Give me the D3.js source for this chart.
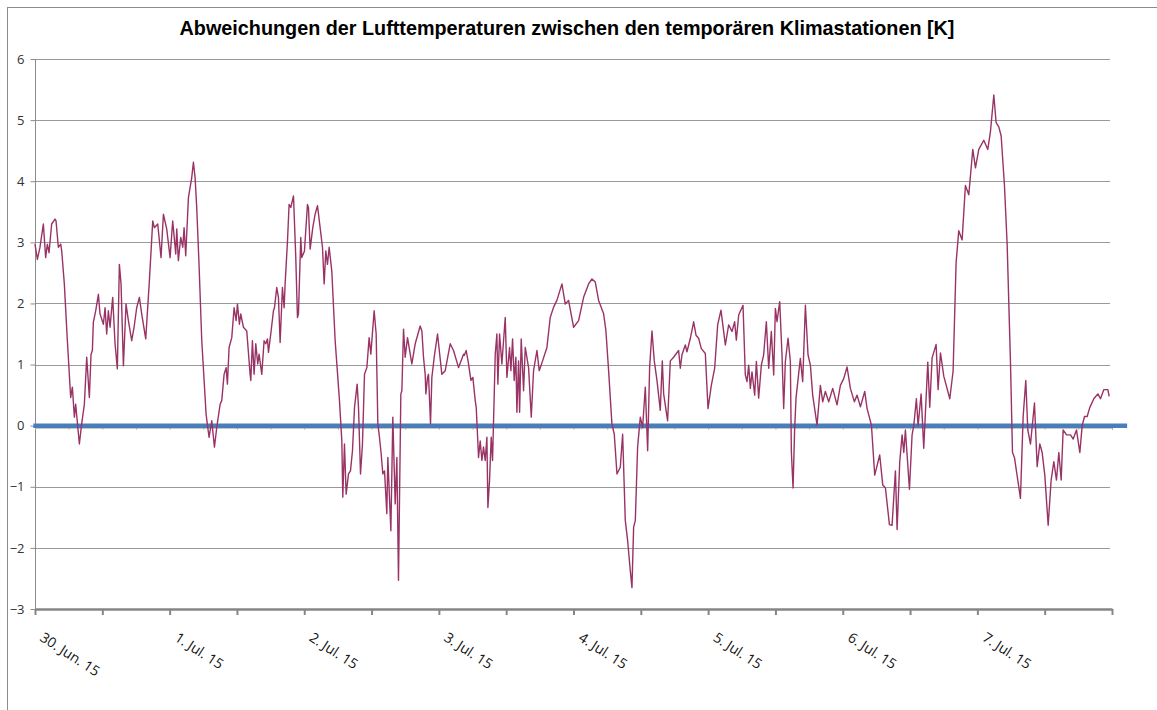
<!DOCTYPE html>
<html><head><meta charset="utf-8">
<script src="https://cdn.jsdelivr.net/npm/d3@7"></script>
<style>body{margin:0;background:#fff}svg{display:block}</style>
</head><body><svg id="c" width="1157" height="710"></svg>
<script>
const chartTitle = "Abweichungen der Lufttemperaturen zwischen den temporären Klimastationen [K]";
const startUTC = Date.UTC(2015, 5, 30);
const spanHours = 192;
// hours since 30 Jun 2015 00:00
const hours = [
0,0.42,0.89,1.49,1.90,2.20,2.50,2.97,3.57,3.75,4.16,4.58,4.76,5.23,5.77,6.36,6.66,7.02,7.25,7.91,8.32,8.80,9.22,9.69,9.99,10.23,10.40,10.82,11.30,11.59,12.19,12.49,12.78,13.08,13.38,13.85,14.27,14.68,15.04,15.34,15.76,16.23,16.65,17.24,17.66,18.13,18.61,19.02,19.74,20.39,20.99,21.28,21.88,22.47,22.89,23.48,24.08,24.55,25.09,25.27,25.56,25.98,26.34,26.58,26.87,27.35,27.94,28.24,28.54,28.83,29.25,29.73,30.50,30.80,31.03,31.51,31.99,32.40,33.00,33.29,33.71,34.07,34.30,34.60,35.08,35.49,35.85,36.09,36.44,36.68,37.16,37.75,38.35,
38.47,38.76,39.06,39.36,39.71,39.95,40.43,40.84,41.14,41.44,41.62,42.03,42.51,42.69,43.10,43.40,43.70,44.11,44.41,44.59,45.01,45.30,45.60,46.08,46.49,46.79,46.97,47.38,47.56,48.04,48.57,48.75,49.05,49.52,49.94,50.36,50.83,51.25,51.55,51.84,52.14,52.44,52.91,53.51,54.28,54.70,54.87,55.17,55.47,55.89,56.24,56.60,56.96,57.43,57.67,58.03,58.38,58.74,59.16,59.57,59.87,60.46,60.82,61.12,61.41,61.71,62.01,62.31,62.72,62.90,63.44,63.79,64.21,64.51,64.80,65.22,65.40,65.70,65.99,66.41,67.18,67.78,68.67,68.97,69.26,69.56,69.68,69.98,70.15,70.51,70.75,71.17,71.76,72.53,73.13,74.02,74.61,75.51,76.40,
76.52,76.87,77.29,77.71,78.06,78.48,78.66,79.07,79.37,79.67,79.96,80.26,80.56,80.74,81.03,81.33,81.57,82.05,82.34,82.52,82.82,83.23,83.83,84.13,84.60,84.84,85.14,85.43,85.73,85.91,86.21,86.39,86.68,87.10,87.40,87.99,88.47,88.88,89.48,89.89,90.49,91.26,91.85,92.45,93.04,93.94,94.53,95.12,96.02,96.91,97.80,98.69,99.29,99.88,100.48,101.37,101.78,102.26,102.85,103.27,103.75,104.34,104.76,105.23,105.65,106.12,106.42,106.72,107.02,107.43,107.91,108.32,108.80,109.22,109.57,109.99,110.40,110.88,111.47,111.83,112.07,112.78,113.26,113.85,114.74,
115.04,115.34,115.93,116.23,116.83,117.42,117.84,118.31,118.79,119.50,119.98,120.57,121.17,121.70,122.29,122.77,123.07,123.66,124.26,124.73,125.03,125.45,126.22,126.63,126.93,127.23,127.53,127.82,128.30,128.60,129.01,129.49,129.90,130.38,130.80,131.27,131.69,131.99,132.28,132.76,133.17,133.47,133.77,134.25,134.66,134.84,135.14,135.43,135.67,136.44,136.86,137.34,137.81,138.23,138.64,139.42,140.01,140.43,140.90,141.50,142.21,142.98,143.58,144.17,144.77,145.36,146.08,146.55,147.15,147.92,148.34,149.11,149.70,150.59,151.13,151.61,152.32,
152.79,153.39,153.69,154.16,154.58,154.88,155.17,155.89,156.36,156.66,157.13,157.43,157.97,158.44,159.16,159.51,159.93,160.64,161.00,161.42,162.01,163.08,163.67,164.21,164.68,165.28,165.87,166.47,167.18,167.66,168.25,169.14,169.86,170.33,170.93,171.34,171.82,172.24,172.83,173.31,173.90,174.26,174.61,175.68,176.16,176.63,176.99,177.47,178.18,178.66,179.13,179.55,180.02,180.62,181.15,181.63,182.10,182.52,182.94,183.29,183.89,184.60,185.08,185.67,186.27,186.68,187.10,187.57,188.05,188.76,189.48,189.95,190.55,191.26,191.50
];
// deviation in K
const deviation = [
2.97,2.72,2.92,3.30,2.75,2.97,2.83,3.30,3.38,3.35,2.92,2.97,2.86,2.32,1.39,0.46,0.63,0.14,0.35,-0.30,0.03,0.35,1.12,0.46,1.17,1.23,1.69,1.88,2.15,1.83,1.66,1.93,1.50,1.88,1.61,2.10,1.34,0.93,2.64,2.32,0.98,1.99,1.72,1.39,1.61,1.93,2.10,1.83,1.42,2.37,3.35,3.24,3.30,2.75,3.46,3.22,2.75,3.35,2.81,3.22,2.70,3.08,2.92,3.24,2.78,3.73,4.06,4.31,4.06,3.57,2.62,1.39,0.19,-0.03,-0.19,0.08,-0.35,-0.03,0.35,0.41,0.84,0.95,0.68,1.28,1.44,1.93,1.72,1.99,1.66,1.83,1.61,1.55,0.84,
0.74,1.39,0.84,1.34,1.01,1.17,0.84,1.39,1.34,1.42,1.20,1.50,1.88,1.93,2.26,2.10,1.36,2.26,1.93,2.32,3.02,3.62,3.57,3.76,2.75,1.77,1.83,3.08,2.75,2.86,3.62,3.57,2.89,3.24,3.46,3.60,3.24,2.92,2.32,2.86,2.64,2.92,2.53,1.39,0.41,-0.25,-1.17,-0.30,-1.12,-0.79,-0.74,-0.41,0.30,0.68,0.30,-0.79,-0.30,0.84,0.95,1.44,1.17,1.88,1.50,0.03,-0.19,-0.46,-0.79,-0.74,-1.44,-0.52,-1.72,0.14,-1.28,-0.52,-2.53,0.52,0.57,1.58,1.12,1.44,1.01,1.34,1.63,1.55,1.12,0.84,0.52,0.79,0.84,0.03,0.79,1.12,1.50,0.84,0.90,1.34,1.23,0.95,1.17,
1.15,1.23,1.01,0.74,0.79,0.41,0.30,-0.52,-0.25,-0.57,-0.35,-0.57,-0.19,-1.34,-0.90,-0.19,-0.57,1.17,1.50,0.68,1.50,1.01,1.77,0.79,1.28,0.90,1.42,0.74,1.12,0.22,1.06,0.22,1.42,0.57,1.28,0.95,0.14,0.90,1.23,0.90,1.06,1.28,1.77,1.94,2.05,2.32,1.99,2.05,1.61,1.72,2.10,2.32,2.40,2.35,2.05,1.83,1.55,0.90,0.03,-0.14,-0.79,-0.68,-0.14,-1.55,-1.88,-2.37,-2.65,-1.66,-1.55,-0.35,0.14,-0.03,0.63,-0.41,0.95,1.55,1.06,0.74,0.25,1.06,0.52,0.08,1.06,1.12,1.23,
0.94,1.16,1.32,1.21,1.43,1.70,1.48,1.43,1.26,1.18,0.28,0.66,0.94,1.65,1.89,1.54,1.32,1.65,1.54,1.70,1.40,1.81,1.97,0.83,0.72,0.99,0.61,0.88,0.50,1.05,0.45,0.99,1.16,1.70,0.94,1.54,0.83,1.92,1.70,2.03,1.16,0.28,1.05,1.43,1.05,-0.43,-1.02,-0.04,0.45,1.10,0.72,1.97,1.16,0.99,0.50,0.01,0.66,0.39,0.56,0.39,0.61,0.34,0.66,0.77,0.96,0.61,0.39,0.50,0.31,0.56,0.28,0.01,-0.81,-0.48,-0.97,-1.02,-1.62,
-1.63,-0.74,-1.70,-0.59,-0.15,-0.44,-0.07,-1.04,-0.15,0.00,0.44,0.00,0.52,-0.37,1.04,0.30,1.11,1.33,0.59,1.19,0.81,0.44,0.89,2.67,3.19,3.04,3.93,3.78,4.52,4.22,4.52,4.67,4.52,4.81,5.41,4.96,4.89,4.74,3.93,2.96,1.04,-0.44,-0.52,-1.19,0.15,0.74,-0.07,-0.30,0.37,-0.67,-0.30,-0.44,-0.81,-1.63,-0.89,-0.59,-0.89,-0.44,-0.89,-0.07,-0.15,-0.15,-0.22,-0.07,-0.44,0.00,0.15,0.15,0.30,0.44,0.52,0.44,0.59,0.59,0.48
];
// second series: constant zero reference
const zeroHours = [-0.3, 194.7];
const zeroValues = [0, 0];
const yTickValues = [-3,-2,-1,0,1,2,3,4,5,6];
const monthLabels = ["Jan.","Feb.","Mär.","Apr.","Mai","Jun.","Jul.","Aug.","Sep.","Okt.","Nov.","Dez."];

const svg = d3.select("#c");
const toDate = h => new Date(startUTC + h * 3600e3);
const x = d3.scaleUtc().domain([toDate(0), toDate(spanHours)]).range([35, 1112]);
const y = d3.scaleLinear().domain([-3, 6]).range([609, 59]);

// outer frame
svg.append("rect").attr("x", 7.5).attr("y", 7.5).attr("width", 1200).attr("height", 800)
  .attr("fill", "none").attr("stroke", "#8c8c8c").attr("stroke-width", 1);

// title
svg.append("text").attr("x", 567).attr("y", 35).attr("text-anchor", "middle")
  .attr("font-family", "'Liberation Sans', Arial, sans-serif").attr("font-weight", "bold")
  .attr("font-size", 19.8).attr("fill", "#000").text(chartTitle);

// gridlines
svg.append("g").selectAll("line").data(yTickValues.filter(v => v !== -3 && v !== 0)).join("line")
  .attr("x1", x.range()[0]).attr("x2", 1110)
  .attr("y1", d => Math.round(y(d)) + 0.5).attr("y2", d => Math.round(y(d)) + 0.5)
  .attr("stroke", "#9a9a9a").attr("stroke-width", 1);

// y axis
const yAxis = svg.append("g").attr("transform", "translate(35.5,0)")
  .call(d3.axisLeft(y).tickValues(yTickValues).tickSize(5).tickPadding(6).tickFormat(d3.format("d")));
yAxis.select(".domain").attr("stroke", "#8c8c8c").attr("d", `M0,${y(6)}V${y(-3)}`);
yAxis.selectAll(".tick line").attr("stroke", "#8c8c8c");
yAxis.selectAll(".tick text").attr("font-family", "'Open Sans', sans-serif").attr("font-size", 13).attr("fill", "#333");

// secondary zero axis (thin grey with minor ticks)
const minorTicks = d3.range(0, spanHours + 1, 6).map(toDate);
const zAxis = svg.append("g").attr("transform", `translate(0,${y(0) + 2})`)
  .call(d3.axisBottom(x).tickValues(minorTicks).tickSize(2).tickFormat(""));
zAxis.select(".domain").attr("stroke", "#a8a8a8").attr("stroke-width", 1);
zAxis.selectAll(".tick line").attr("stroke", "#a8a8a8");

// x axis
const majorTicks = d3.range(0, spanHours + 1, 12).map(toDate);
const xAxis = svg.append("g").attr("transform", `translate(0,${y(-3)})`)
  .call(d3.axisBottom(x).tickValues(majorTicks).tickSize(6).tickSizeOuter(0).tickFormat(""));
xAxis.select(".domain").attr("stroke", "#868686").attr("stroke-width", 2.5);
xAxis.selectAll(".tick line").attr("stroke", "#868686").attr("stroke-width", 2);

const dayTicks = d3.range(0, spanHours, 24).map(toDate);
svg.append("g").selectAll("text").data(dayTicks).join("text")
  .attr("transform", d => `translate(${x(d) + 4},${y(-3) + 31}) rotate(33)`)
  .attr("font-family", "'Open Sans', sans-serif").attr("font-size", 14).attr("fill", "#111")
  .text(d => `${d.getUTCDate()}. ${monthLabels[d.getUTCMonth()]} 15`);

// series
const line = d3.line().x(d => x(toDate(d[0]))).y(d => y(d[1]));
svg.append("path").datum(zeroHours.map((h, i) => [h, zeroValues[i]]))
  .attr("d", line).attr("fill", "none").attr("stroke", "#4a7ebb").attr("stroke-width", 4.5);
svg.append("path").datum(hours.map((h, i) => [h, deviation[i]]))
  .attr("d", line).attr("fill", "none").attr("stroke", "#993366").attr("stroke-width", 1.4)
  .attr("stroke-linejoin", "round");
</script>
</body></html>
